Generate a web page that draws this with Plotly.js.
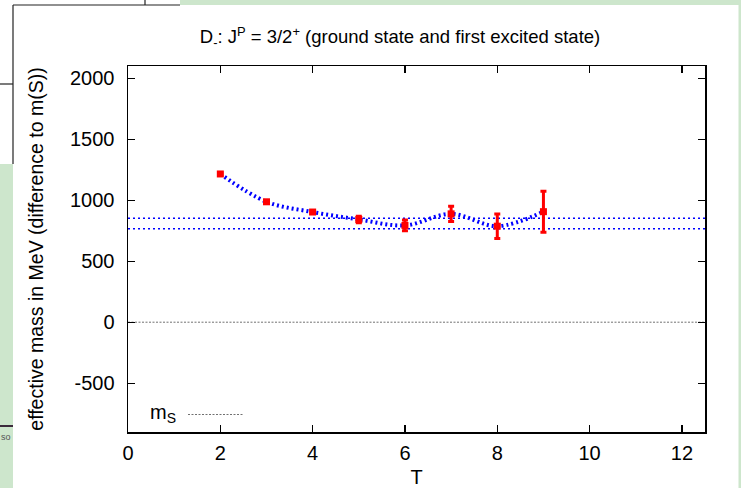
<!DOCTYPE html>
<html>
<head>
<meta charset="utf-8">
<script src="https://cdn.plot.ly/plotly-3.0.1.min.js"></script>
<style>html,body{margin:0;padding:0;background:#fff;}#chart{width:741px;height:488px;}</style>
</head>
<body>
<div id="chart"></div>
<script>
// ---- data ----
const T = [2, 3, 4, 5, 6, 7, 8, 9];
const effMass = [1215, 987, 903, 842, 793, 888, 787, 906];
const effErr = [8, 10, 12, 27, 44, 63, 100, 168];
const plateauUpper = 852;
const plateauLower = 766;
const xSpan = [0, 12.5];
const ySpan = [-900, 2100];
const xTicks = [0, 2, 4, 6, 8, 10, 12];
const yTicks = [-500, 0, 500, 1000, 1500, 2000];
const yTickText = ['-500', '0', '500', '1000', '1500', '2000'];
const xTickText = ['0', '2', '4', '6', '8', '10', '12'];

// ---- layout geometry ----
const W = 741, H = 488, L = 128, R = 705, TOP = 66, BOT = 432;
const px = v => (v - L) / (R - L);
const py = v => (BOT - v) / (BOT - TOP);
const FONT = 'Liberation Sans, Arial, Helvetica, sans-serif';
const FS = 20;
const green = '#cde6cc';

const traces = [
  { x: xSpan, y: [0, 0], mode: 'lines', line: { color: '#707070', width: 1, dash: '2px,1.5px' }, hoverinfo: 'skip', showlegend: false },
  { x: xSpan, y: [plateauUpper, plateauUpper], mode: 'lines', line: { color: '#0000ff', width: 1.5, dash: '2px,3px' }, showlegend: false },
  { x: xSpan, y: [plateauLower, plateauLower], mode: 'lines', line: { color: '#0000ff', width: 1.5, dash: '2px,3px' }, showlegend: false },
  { x: T, y: effMass, mode: 'lines', line: { color: '#0000ff', width: 4, dash: '2px,3px', shape: 'spline', smoothing: 1 }, showlegend: false },
  { x: T, y: effMass, mode: 'markers', marker: { color: '#ff0000', symbol: 'square', size: 7 },
    error_y: { type: 'data', array: effErr, visible: true, color: '#ff0000', thickness: 3, width: 3 }, showlegend: false }
];

function rect(x0, y0, x1, y1, c) {
  return { type: 'rect', xref: 'paper', yref: 'paper', x0: px(x0), x1: px(x1), y0: py(y0), y1: py(y1), fillcolor: c, line: { width: 0 } };
}
function seg(x0, y0, x1, y1, c, w, d) {
  return { type: 'line', xref: 'paper', yref: 'paper', x0: px(x0), x1: px(x1), y0: py(y0), y1: py(y1), line: { color: c, width: w, dash: d || 'solid' } };
}

const layout = {
  width: W, height: H,
  margin: { l: L, r: W - R, t: TOP, b: H - BOT, pad: 0 },
  paper_bgcolor: '#ffffff', plot_bgcolor: '#ffffff',
  font: { family: FONT, size: FS, color: '#000' },
  showlegend: false,
  title: {
    text: 'D<sub>-</sub>: J<sup>P</sup> = 3/2<sup>+</sup> (ground state and first excited state)',
    font: { family: FONT, size: 18.5, color: '#000' },
    xref: 'paper', x: px(400), xanchor: 'center',
    yref: 'container', y: 1 - 37 / H, yanchor: 'middle'
  },
  xaxis: {
    range: xSpan, tickvals: xTicks, ticktext: xTickText, ticks: 'inside', ticklen: 7, tickwidth: 1.2, tickcolor: '#000',
    showline: true, linecolor: '#000', linewidth: 1.5, mirror: 'ticks', showgrid: false, zeroline: false,
    ticklabelstandoff: 2,
    tickfont: { family: FONT, size: FS, color: '#000' },
    title: { text: 'T', font: { family: FONT, size: FS, color: '#000' }, standoff: 16 }
  },
  yaxis: {
    range: ySpan, tickvals: yTicks, ticktext: yTickText, ticks: 'inside', ticklen: 7, tickwidth: 1.2, tickcolor: '#000',
    showline: true, linecolor: '#000', linewidth: 1.5, mirror: 'ticks', showgrid: false, zeroline: false,
    ticklabelstandoff: 8,
    tickfont: { family: FONT, size: FS, color: '#000' },
    title: { text: 'effective mass in MeV (difference to m(S))', font: { family: FONT, size: 19.5, color: '#000' }, standoff: 21 }
  },
  shapes: [
    rect(180, 0, 741, 5, green),
    rect(738.5, 0, 741, 488, green),
    rect(0, 164, 13, 488, green),
    seg(13, 5, 180, 5, '#222', 1.2),
    seg(13, 5, 13, 164, '#222', 1.2),
    seg(0, 84, 13, 84, '#222', 1.2),
    seg(145, 0, 145, 5, '#222', 1.2),
    seg(0, 426, 13, 426, '#3b2b3b', 2),
    seg(188, 414.5, 243, 414.5, '#707070', 1, '2px,1.5px')
  ],
  annotations: [
    { xref: 'paper', yref: 'paper', x: px(148), y: py(413), xanchor: 'left', yanchor: 'middle', showarrow: false,
      text: 'm<sub>S</sub>', font: { family: FONT, size: FS, color: '#000' } },
    { xref: 'paper', yref: 'paper', x: px(-1), y: py(437), xanchor: 'left', yanchor: 'middle', showarrow: false,
      text: 'so', font: { family: FONT, size: 9, color: '#555' } }
  ]
};

Plotly.newPlot('chart', traces, layout, { displayModeBar: false, staticPlot: true });
</script>
</body>
</html>
